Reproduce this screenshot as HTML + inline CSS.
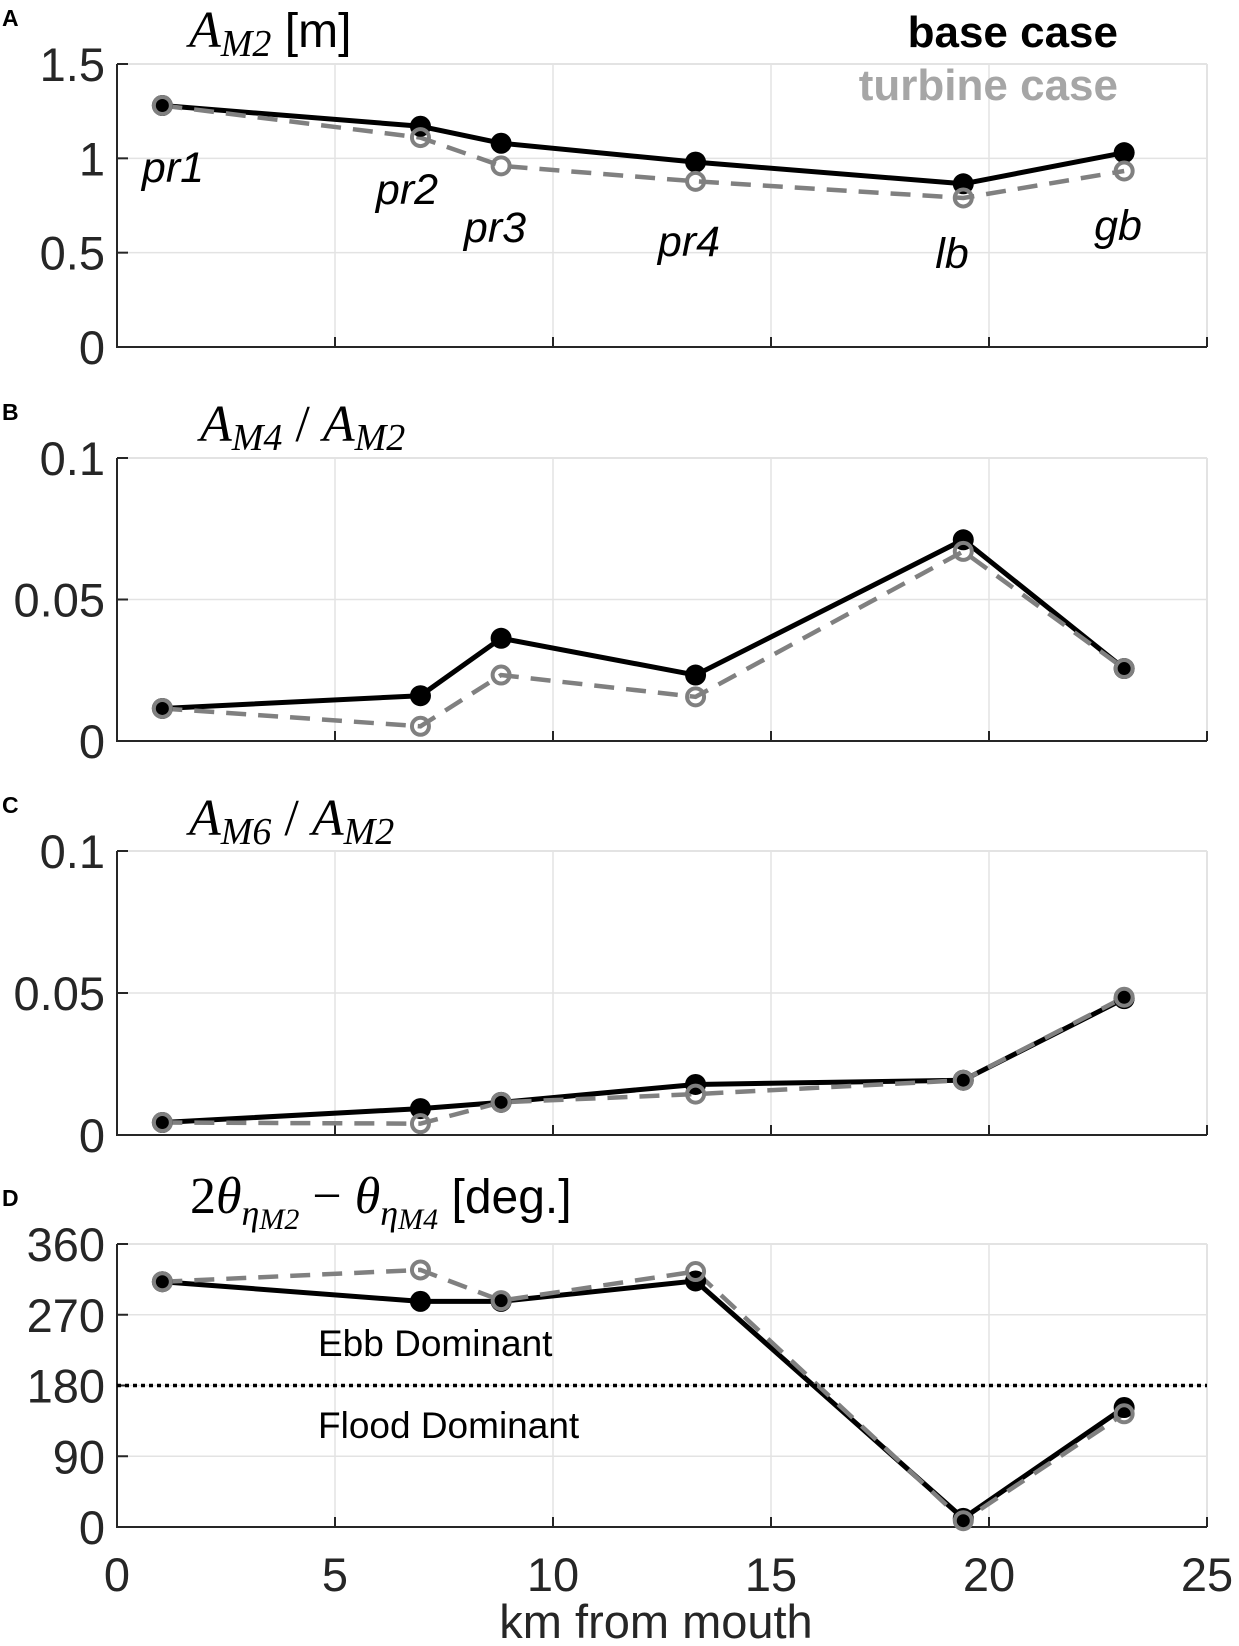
<!DOCTYPE html>
<html><head><meta charset="utf-8"><style>
html,body{margin:0;padding:0;background:#fff}
svg{display:block}
text{font-family:"Liberation Sans",sans-serif}
.tk{font-size:47px;fill:#262626}
.m{font-family:"Liberation Serif",serif;font-style:italic}
</style></head><body>
<svg id="chart" width="1239" height="1646" viewBox="0 0 1239 1646" xmlns="http://www.w3.org/2000/svg">
<g id="panels"></g>
</svg>
<script>
const km = [1.04, 6.96, 8.81, 13.27, 19.41, 23.1];
const stations = ["pr1","pr2","pr3","pr4","lb","gb"];
const aM2Base = [1.28, 1.17, 1.08, 0.98, 0.865, 1.03];
const aM2Turb = [1.28, 1.11, 0.96, 0.878, 0.79, 0.933];
const m4Base = [0.0115, 0.016, 0.0363, 0.0233, 0.0711, 0.0256];
const m4Turb = [0.0115, 0.0052, 0.0233, 0.0156, 0.067, 0.0256];
const m6Base = [0.0044, 0.0093, 0.0115, 0.0178, 0.0193, 0.048];
const m6Turb = [0.0044, 0.004, 0.0115, 0.0144, 0.0193, 0.0485];
const phBase = [312, 287, 287, 313, 11, 152];
const phTurb = [312, 327, 288, 325, 8, 144];
const xTicks = [0,5,10,15,20,25];
const ticksA = [0,0.5,1,1.5], labelsA = ["0","0.5","1","1.5"];
const ticksB = [0,0.05,0.1], labelsB = ["0","0.05","0.1"];
const ticksD = [0,90,180,270,360], labelsD = ["0","90","180","270","360"];

const NS="http://www.w3.org/2000/svg";
const root=document.getElementById('panels');
const X0=117, X1=1207;
const sx=v=>X0+(v-0)/(25-0)*(X1-X0);
function el(tag,attrs,parent,txt){const e=document.createElementNS(NS,tag);for(const k in attrs)e.setAttribute(k,attrs[k]);if(txt!==undefined)e.textContent=txt;(parent||root).appendChild(e);return e;}

function panel(key,top,bot,ymax,ticks,labels,base,turb,showX){
  const g=el('g',{});
  
  
  const sy=v=>bot-(v/ymax)*(bot-top);
  const bt=el('line',{x1:X0,x2:X1,y1:top,y2:top,stroke:'#e3e3e3','stroke-width':2},g);
  
  const br=el('line',{x1:X1,x2:X1,y1:top,y2:bot,stroke:'#e3e3e3','stroke-width':2},g);
  
  xTicks.forEach(t=>{ if(t>0&&t<25){const l=el('line',{x1:sx(t),x2:sx(t),y1:top,y2:bot,stroke:'#e3e3e3','stroke-width':1.5},g);
    }
    const tk=el('line',{x1:sx(t),x2:sx(t),y1:bot,y2:bot-10,stroke:'#262626','stroke-width':2},g);
    
    if(showX){const tl=el('text',{x:sx(t),y:bot+64,'text-anchor':'middle',class:'tk'},g,String(t));
      }
  });
  ticks.forEach((t,i)=>{ if(t>0&&t<ymax){const l=el('line',{x1:X0,x2:X1,y1:sy(t),y2:sy(t),stroke:'#e3e3e3','stroke-width':1.5},g);
    }
    const tk=el('line',{x1:X0,x2:X0+11,y1:sy(t),y2:sy(t),stroke:'#262626','stroke-width':2},g);
    
    const tl=el('text',{x:X0-12,y:sy(t)+17,'text-anchor':'end',class:'tk'},g,labels[i]);
    
  });
  const ax=el('polyline',{points:`${X0},${top} ${X0},${bot} ${X1},${bot}`,fill:'none',stroke:'#262626','stroke-width':2},g);
  
  const pts=a=>a.map((v,i)=>sx(km[i])+','+sy(v)).join(' ');
  const lb=el('polyline',{points:pts(base),fill:'none',stroke:'#000','stroke-width':5,'stroke-linejoin':'round'},g);
  
  const lt=el('polyline',{points:pts(turb),fill:'none',stroke:'#808080','stroke-width':4.5,'stroke-dasharray':'20 12'},g);
  
  base.forEach((v,i)=>{const c=el('circle',{cx:sx(km[i]),cy:sy(v),r:10.5,fill:'#000'},g);
    });
  turb.forEach((v,i)=>{const c=el('circle',{cx:sx(km[i]),cy:sy(v),r:8.5,fill:'none',stroke:'#808080','stroke-width':4},g);
    });
  return {g,sy};
}

panel('a',64,347,1.5,ticksA,labelsA,aM2Base,aM2Turb,false);
panel('b',458,741,0.1,ticksB,labelsB,m4Base,m4Turb,false);
panel('c',851,1135,0.1,ticksB,labelsB,m6Base,m6Turb,false);
const pD=panel('d',1244,1527,360,ticksD,labelsD,phBase,phTurb,true);

const dl=el('line',{x1:X0,x2:X1,y1:pD.sy(180),y2:pD.sy(180),stroke:'#000','stroke-width':3.5,'stroke-dasharray':'4 4'});



const stPos=[[173,182],[407,204],[495,242],[689,256],[952,268],[1118,240]];
stations.forEach((s,i)=>{const t=el('text',{x:stPos[i][0],y:stPos[i][1],'text-anchor':'middle','font-size':43,'font-style':'italic',fill:'#000'},root,s);
  
  });
</script>
<div style="position:absolute;left:0;top:0;width:1239px;height:1646px;pointer-events:none">
<svg width="1239" height="1646" viewBox="0 0 1239 1646" xmlns="http://www.w3.org/2000/svg">
<text x="2" y="26" font-size="23" font-weight="bold">A</text>
<text x="2" y="420" font-size="23" font-weight="bold">B</text>
<text x="2" y="813" font-size="23" font-weight="bold">C</text>
<text x="2" y="1206" font-size="23" font-weight="bold">D</text>
<text x="189" y="47" font-size="52"><tspan class="m">A</tspan><tspan class="m" font-size="38" dy="9">M2</tspan><tspan dy="-9" font-size="48"> [m]</tspan></text>
<text x="200" y="441" font-size="52" class="m">A<tspan font-size="38" dy="9">M4</tspan><tspan dy="-9" font-style="normal"> / </tspan>A<tspan font-size="38" dy="9">M2</tspan></text>
<text x="189" y="835" font-size="52" class="m">A<tspan font-size="38" dy="9">M6</tspan><tspan dy="-9" font-style="normal"> / </tspan>A<tspan font-size="38" dy="9">M2</tspan></text>
<text x="190" y="1213" font-size="52"><tspan font-family="Liberation Serif">2</tspan><tspan class="m">θ</tspan><tspan class="m" font-size="36" dy="12">η</tspan><tspan class="m" font-size="30" dy="4">M2</tspan><tspan font-family="Liberation Serif" dy="-16"> − </tspan><tspan class="m">θ</tspan><tspan class="m" font-size="36" dy="12">η</tspan><tspan class="m" font-size="30" dy="4">M4</tspan><tspan dy="-16" font-size="48"> [deg.]</tspan></text>
<text x="1118" y="47" font-size="44" font-weight="bold" text-anchor="end" fill="#000">base case</text>
<text x="1118" y="100" font-size="44" font-weight="bold" text-anchor="end" fill="#a6a6a6">turbine case</text>
<text x="318" y="1356" font-size="37" fill="#000">Ebb Dominant</text>
<text x="318" y="1438" font-size="37" fill="#000">Flood Dominant</text>
<text x="656" y="1638" font-size="47" fill="#262626" text-anchor="middle">km from mouth</text>
</svg></div>
</body></html>
